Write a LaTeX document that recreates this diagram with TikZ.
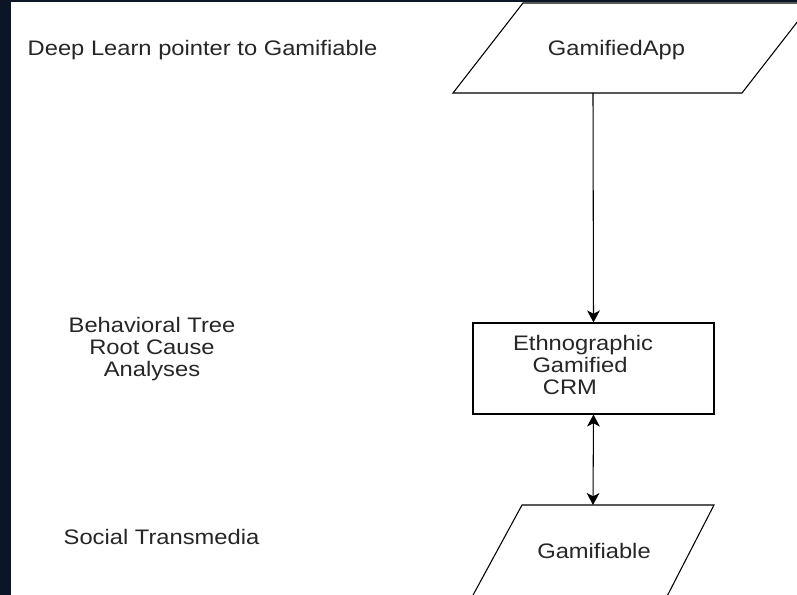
\documentclass[tikz,border=0pt]{standalone}
\usepackage{fontspec}
\setmainfont[FakeStretch=1.13]{Liberation Sans}
\usetikzlibrary{arrows.meta}
\definecolor{bgdark}{HTML}{0B1526}
\definecolor{txt}{HTML}{262626}
\begin{document}
\begin{tikzpicture}[x=0.75pt,y=-0.75pt,
  lbl/.style={text=txt,font=\fontsize{15.75}{16.3}\selectfont,inner sep=0pt,align=center},
  shp/.style={draw=black,line width=0.8pt},
  conn/.style={draw=black,line width=0.8pt},
  >={Stealth[length=9pt,width=9.5pt,inset=2.5pt]}]
\useasboundingbox (0,0) rectangle (797,595);
\fill[bgdark] (0,0) rectangle (797,595);
\fill[white] (11,2.5) rectangle (797,595);
\begin{scope}
  \clip (11,2.5) rectangle (797,595);
  % top parallelogram
  \draw[shp] (453,93) -- (742,93) -- (812,3) -- (523,3) -- cycle;
  % bottom parallelogram
  \draw[shp] (466,608) -- (522,505) -- (714,505) -- (661,608);
\end{scope}
\coordinate (appbot) at (593,93);
\coordinate (gamtop) at (593,505);
\node[lbl] (app) at (616.5,50) {GamifiedApp};
\node[lbl] (gam) at (594,551) {Gamifiable};
\node[shp,minimum width=180.75pt,minimum height=68.25pt,inner sep=0pt] (crm) at (593.5,368.5) {};
\node[lbl] (crmtxt) at (583,365) {Ethnographic\\Gamified\rule{4.5pt}{0pt}\\CRM\rule{19.5pt}{0pt}};
\draw[conn,->] (appbot) -- (crm.north);
\draw[conn,<->] (crm.south) -- (gamtop);
\node[lbl] (deep) at (202.5,50) {Deep Learn pointer to Gamifiable};
\node[lbl] (beh) at (152,349) {Behavioral Tree\\Root Cause\\Analyses};
\node[lbl] (soc) at (161.5,537) {Social Transmedia};
\end{tikzpicture}
\end{document}
